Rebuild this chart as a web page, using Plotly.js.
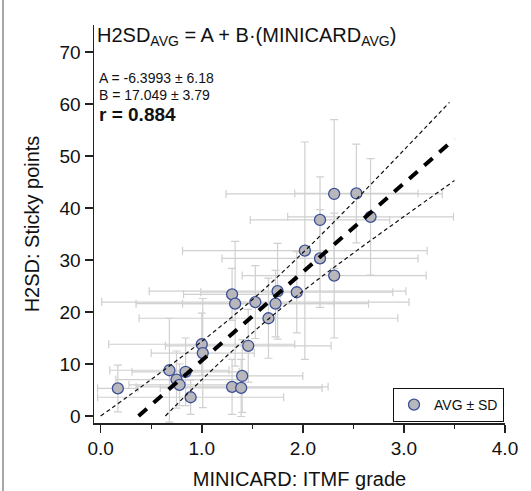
<!DOCTYPE html>
<html>
<head>
<meta charset="utf-8">
<script src="https://cdn.plot.ly/plotly-3.0.1.min.js"></script>
<style>html,body{margin:0;padding:0;background:#fff;}</style>
</head>
<body>
<div id="chart" style="width:531px;height:491px;"></div>
<script>
// Data
const minicardAvg = [0.17,0.68,0.75,0.78,0.84,0.89,1.00,1.01,1.30,1.39,1.40,1.46,1.30,1.33,1.53,1.66,1.73,1.75,1.94,2.02,2.17,2.17,2.31,2.31,2.53,2.67];
const h2sdAvg     = [5.3,8.8,7.0,6.0,8.5,3.6,13.8,12.1,5.6,5.4,7.7,13.5,23.4,21.6,21.9,18.8,21.6,24.0,23.8,31.8,37.7,30.3,27.0,42.7,42.8,38.3];
const minicardSD  = [0.2,0.59,0.6,0.5,0.53,0.92,0.92,0.51,0.95,0.8,0.6,0.82,0.48,0.98,1.52,1.28,0.92,1.27,0.95,1.21,0.69,0.97,0.91,1.07,0.61,0.82];
const h2sdSD      = [4.5,10,5.5,4,6.5,3.3,6,10.5,5.3,5.5,7,7,5,12,7,7.7,6.4,9.2,7.8,20.9,8.3,9.4,12,14.3,9.5,11.2];

// Regression line endpoints and confidence band
const fitX = [0.375, 3.5];
const fitY = [0.0, 53.27];
const upperX = [0.0, 0.5, 1.0, 1.5, 2.0, 2.5, 3.0, 3.45];
const upperY = [0.0, 7.02, 14.34, 22.36, 31.39, 41.11, 51.15, 60.31];
const lowerX = [0.64, 1.0, 1.5, 2.0, 2.5, 3.0, 3.5];
const lowerY = [0.0, 6.96, 15.98, 24.01, 31.33, 38.35, 45.27];

const xTicks = [0, 1, 2, 3, 4];
const xTickText = ['0.0', '1.0', '2.0', '3.0', '4.0'];
const yTicks = [0, 10, 20, 30, 40, 50, 60, 70];

const FONT = 'Liberation Sans, Arial, sans-serif';
const TXT = '#111';

const traces = [
  {
    x: minicardAvg, y: h2sdAvg, type: 'scatter', mode: 'markers', name: 'AVG ± SD',
    marker: {size: 11, color: '#b8b8bc', line: {color: '#3c4f96', width: 1.3}},
    error_x: {type: 'data', array: minicardSD, visible: true, color: '#d0d0d0', thickness: 1.2, width: 4},
    error_y: {type: 'data', array: h2sdSD, visible: true, color: '#d0d0d0', thickness: 1.2, width: 4},
    showlegend: true
  },
  {
    x: upperX, y: upperY, type: 'scatter', mode: 'lines', showlegend: false, hoverinfo: 'skip',
    line: {color: '#111', width: 1.2, dash: '4px,3px', shape: 'spline'}
  },
  {
    x: lowerX, y: lowerY, type: 'scatter', mode: 'lines', showlegend: false, hoverinfo: 'skip',
    line: {color: '#111', width: 1.2, dash: '4px,3px', shape: 'spline'}
  },
  {
    x: fitX, y: fitY, type: 'scatter', mode: 'lines', showlegend: false, hoverinfo: 'skip',
    line: {color: '#000', width: 4, dash: '11px,9px'}
  }
];

const layout = {
  width: 531, height: 491,
  margin: {l: 94, r: 26, t: 25, b: 68, pad: 0},
  paper_bgcolor: '#fff', plot_bgcolor: '#fff',
  font: {family: FONT, color: TXT},
  title: {
    text: 'H2SD<sub>AVG</sub> = A + B·(MINICARD<sub>AVG</sub>)',
    font: {size: 20, color: TXT, family: FONT},
    xref: 'container', yref: 'container',
    x: 97/531, xanchor: 'left', y: 1 - 35/491, yanchor: 'middle'
  },
  xaxis: {
    range: [-0.066, 4.0], tickvals: xTicks, ticktext: xTickText,
    ticks: 'outside', ticklen: 8, tickwidth: 1.5, tickcolor: '#222',
    showline: true, linewidth: 1.5, linecolor: '#222',
    showgrid: false, zeroline: false,
    minor: {ticks: 'outside', ticklen: 4, tickwidth: 1.2, tickcolor: '#222', tickvals: [0.5, 1.5, 2.5, 3.5]},
    tickfont: {size: 19, color: TXT, family: FONT},
    title: {text: 'MINICARD: ITMF grade', font: {size: 20, color: TXT, family: FONT}, standoff: 13}
  },
  yaxis: {
    range: [-1.35, 75.2], tickvals: yTicks,
    ticks: 'outside', ticklen: 8, tickwidth: 1.5, tickcolor: '#222',
    showline: true, linewidth: 1.5, linecolor: '#222',
    showgrid: false, zeroline: false,
    tickfont: {size: 19, color: TXT, family: FONT},
    title: {text: 'H2SD: Sticky points', font: {size: 20, color: TXT, family: FONT}, standoff: 14}
  },
  showlegend: true,
  legend: {
    x: (393 - 94) / 411, y: (423 - 388) / 398, xanchor: 'left', yanchor: 'top',
    bordercolor: '#111', borderwidth: 1, bgcolor: '#fff',
    font: {size: 14, color: TXT, family: FONT},
    itemwidth: 30, tracegroupgap: 0
  },
  annotations: [
    {xref: 'paper', yref: 'paper', x: 3/411, y: (423 - 78) / 398, xanchor: 'left', yanchor: 'middle',
     text: 'A = -6.3993 ± 6.18', showarrow: false, font: {size: 14, color: TXT, family: FONT}},
    {xref: 'paper', yref: 'paper', x: 3/411, y: (423 - 95) / 398, xanchor: 'left', yanchor: 'middle',
     text: 'B = 17.049 ± 3.79', showarrow: false, font: {size: 14, color: TXT, family: FONT}},
    {xref: 'paper', yref: 'paper', x: 3/411, y: (423 - 115) / 398, xanchor: 'left', yanchor: 'middle',
     text: '<b>r = 0.884</b>', showarrow: false, font: {size: 19, color: TXT, family: FONT}}
  ],
  shapes: [
    {type: 'line', xref: 'paper', yref: 'paper', x0: -91/411, x1: -91/411, y0: -68/398, y1: 1 + 25/398,
     line: {color: '#8a8a8a', width: 1.5}}
  ]
};

Plotly.newPlot('chart', traces, layout, {displayModeBar: false, staticPlot: true});
</script>
</body>
</html>
